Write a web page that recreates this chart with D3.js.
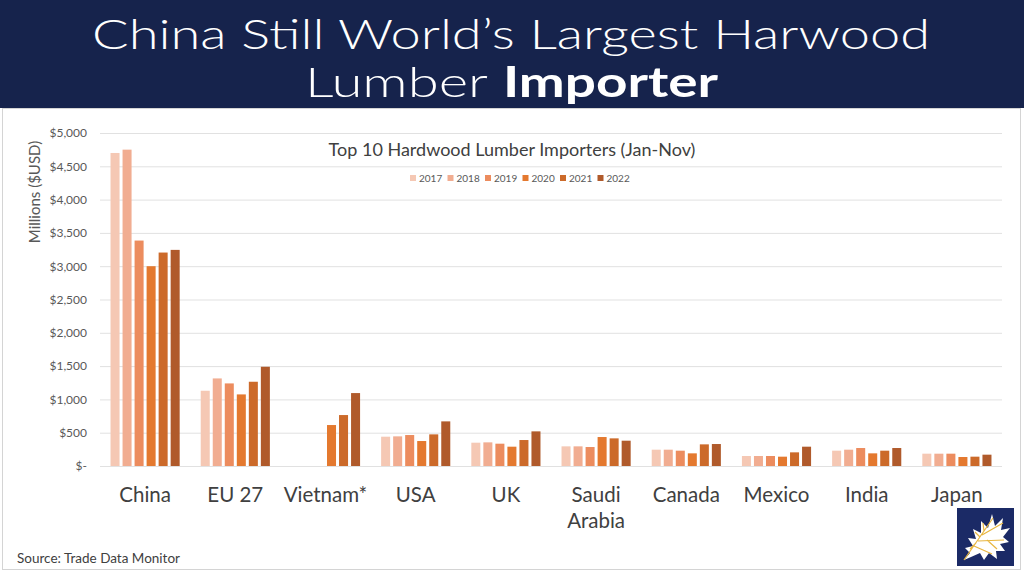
<!DOCTYPE html>
<html>
<head>
<meta charset="utf-8">
<script src="https://cdn.jsdelivr.net/npm/d3@7"></script>
<style>
  body { margin: 0; background: #fff; }
  svg { display: block; font-family: "Lato", "Open Sans", sans-serif; }
</style>
</head>
<body>
<div id="chart"></div>
<script>
// categories and series (millions USD, Jan-Nov)
const countries = ["China", "EU 27", "Vietnam*", "USA", "UK", "Saudi Arabia", "Canada", "Mexico", "India", "Japan"];
const years = ["2017", "2018", "2019", "2020", "2021", "2022"];
const v2017 = [4700, 1130, null, 440, 350, 295, 245, 150, 230, 185];
const v2018 = [4750, 1315, null, 445, 355, 295, 245, 150, 245, 185];
const v2019 = [3385, 1240, null, 465, 335, 285, 230, 150, 270, 185];
const v2020 = [3000, 1075, 615, 375, 290, 435, 190, 140, 190, 135];
const v2021 = [3205, 1265, 765, 475, 390, 415, 325, 205, 230, 140];
const v2022 = [3245, 1490, 1095, 670, 520, 380, 330, 290, 270, 170];
const yTicks = [0, 500, 1000, 1500, 2000, 2500, 3000, 3500, 4000, 4500, 5000];

const series = [v2017, v2018, v2019, v2020, v2021, v2022];
const colors = ["#f5c8b4", "#f1ad91", "#ec8c5e", "#e4792f", "#cc6a2a", "#b05a2b"];

const width = 1024, height = 572;
const svg = d3.select("#chart").append("svg")
  .attr("width", width)
  .attr("height", height);

// title banner
svg.append("rect")
  .attr("x", 0).attr("y", 0)
  .attr("width", width).attr("height", 108)
  .attr("fill", "#16234c");

// title font is smaller than the original's rounded face, so stretch it to the same width
svg.append("text")
  .attr("x", 92).attr("y", 49)
  .attr("fill", "#fff")
  .attr("font-size", 42)
  .attr("font-weight", 300)
  .attr("textLength", 838)
  .attr("lengthAdjust", "spacingAndGlyphs")
  .text("China Still World’s Largest Harwood");

// second line: two texts side by side
svg.append("text")
  .attr("x", 305).attr("y", 97)
  .attr("fill", "#fff")
  .attr("font-size", 42)
  .attr("font-weight", 300)
  .attr("textLength", 183)
  .attr("lengthAdjust", "spacingAndGlyphs")
  .text("Lumber");
svg.append("text")
  .attr("x", 503).attr("y", 97)
  .attr("fill", "#fff")
  .attr("font-size", 42)
  .attr("font-weight", 700)
  .attr("textLength", 215)
  .attr("lengthAdjust", "spacingAndGlyphs")
  .text("Importer");

// light frame round the chart area
svg.append("rect")
  .attr("x", 2.5).attr("y", 108.5)
  .attr("width", 1018).attr("height", 461)
  .attr("fill", "none")
  .attr("stroke", "#d4d4d4");

// scales
const x = d3.scaleBand()
  .domain(countries)
  .range([100, 1002]);

const xSub = d3.scaleBand()
  .domain(years)
  .range([0, x.bandwidth()])
  .paddingInner(0.25)
  .paddingOuter(0.875);

const y = d3.scaleLinear()
  .domain([0, 5000])
  .range([466, 133]);

// gridlines
svg.append("g")
  .selectAll("line")
  .data(yTicks)
  .enter()
  .append("line")
  .attr("x1", 100).attr("x2", 1002)
  .attr("y1", d => y(d) + 0.5).attr("y2", d => y(d) + 0.5)
  .attr("stroke", "#e1e1e1");

// y axis
const yAxis = d3.axisLeft(y)
  .tickValues(yTicks)
  .tickSize(0)
  .tickPadding(0)
  .tickFormat(d => d === 0 ? "$-" : "$" + d3.format(",")(d));

const yAxisGroup = svg.append("g")
  .attr("transform", "translate(87, 0)")
  .call(yAxis);
yAxisGroup.select(".domain").remove();
yAxisGroup.selectAll("text")
  .attr("fill", "#595959")
  .attr("font-size", 12)
  .attr("font-family", "Lato, sans-serif");

svg.append("text")
  .attr("transform", "translate(40, 192) rotate(-90)")
  .attr("text-anchor", "middle")
  .attr("fill", "#595959")
  .attr("font-size", 15)
  .text("Millions ($USD)");

// bars
const groups = svg.append("g")
  .selectAll("g")
  .data(countries)
  .enter()
  .append("g")
  .attr("transform", d => `translate(${x(d)}, 0)`);

groups.selectAll("rect")
  .data((d, i) => years.map((yr, j) => ({ year: yr, value: series[j][i], color: colors[j] })))
  .enter()
  .filter(d => d.value != null)
  .append("rect")
  .attr("x", d => xSub(d.year))
  .attr("width", xSub.bandwidth())
  .attr("y", d => y(d.value))
  .attr("height", d => y(0) - y(d.value))
  .attr("fill", d => d.color);

// x labels
const xLabels = svg.append("g")
  .selectAll("text")
  .data(countries)
  .enter()
  .append("text")
  .attr("x", d => x(d) + x.bandwidth() / 2)
  .attr("y", 502)
  .attr("text-anchor", "middle")
  .attr("fill", "#404040")
  .attr("font-size", 20.5);

xLabels.each(function (d) {
  const words = d === "Saudi Arabia" ? ["Saudi", "Arabia"] : [d];
  d3.select(this).selectAll("tspan")
    .data(words)
    .enter()
    .append("tspan")
    .attr("x", x(d) + x.bandwidth() / 2)
    .attr("dy", (w, k) => k === 0 ? 0 : 26)
    .text(w => w);
});

// chart title
svg.append("text")
  .attr("x", 512).attr("y", 156)
  .attr("text-anchor", "middle")
  .attr("fill", "#404040")
  .attr("font-size", 18)
  .text("Top 10 Hardwood Lumber Importers (Jan-Nov)");

// legend
const legend = svg.append("g")
  .selectAll("g")
  .data(years)
  .enter()
  .append("g")
  .attr("transform", (d, i) => `translate(${410 + i * 37.5}, 178)`);

legend.append("rect")
  .attr("x", 0).attr("y", -3)
  .attr("width", 6).attr("height", 6)
  .attr("fill", (d, i) => colors[i]);

legend.append("text")
  .attr("x", 9).attr("y", 3.5)
  .attr("fill", "#595959")
  .attr("font-size", 10)
  .text(d => d);

// source note
svg.append("text")
  .attr("x", 17).attr("y", 563)
  .attr("fill", "#404040")
  .attr("font-size", 13.5)
  .text("Source: Trade Data Monitor");

// logo: navy square with a white oak leaf
const logo = svg.append("g").attr("transform", "translate(957, 508)");
logo.append("rect")
  .attr("width", 57).attr("height", 58)
  .attr("fill", "#1b2a66");
logo.append("path")
  .attr("d", "M7,52 L13,45 L8,40 L16,38 L11,30 L19,31 L16,21 L24,25 L24,13 L31,20 L35,6 L38,18 L46,10 L44,22 L53,20 L46,29 L52,34 L43,36 L48,43 L39,43 L40,51 L32,45 L27,52 L23,45 L14,49 Z")
  .attr("fill", "#ffffff");
logo.append("path")
  .attr("d", "M7,52 L36,10 M19,35 L13,41 M23,29 L18,24 M27,23 L26,15 M25,27 L46,15 M21,33 L47,32 M17,38 L35,46 M30,32 L40,41")
  .attr("fill", "none")
  .attr("stroke", "#e8b640")
  .attr("stroke-width", 1.2);
</script>
</body>
</html>
